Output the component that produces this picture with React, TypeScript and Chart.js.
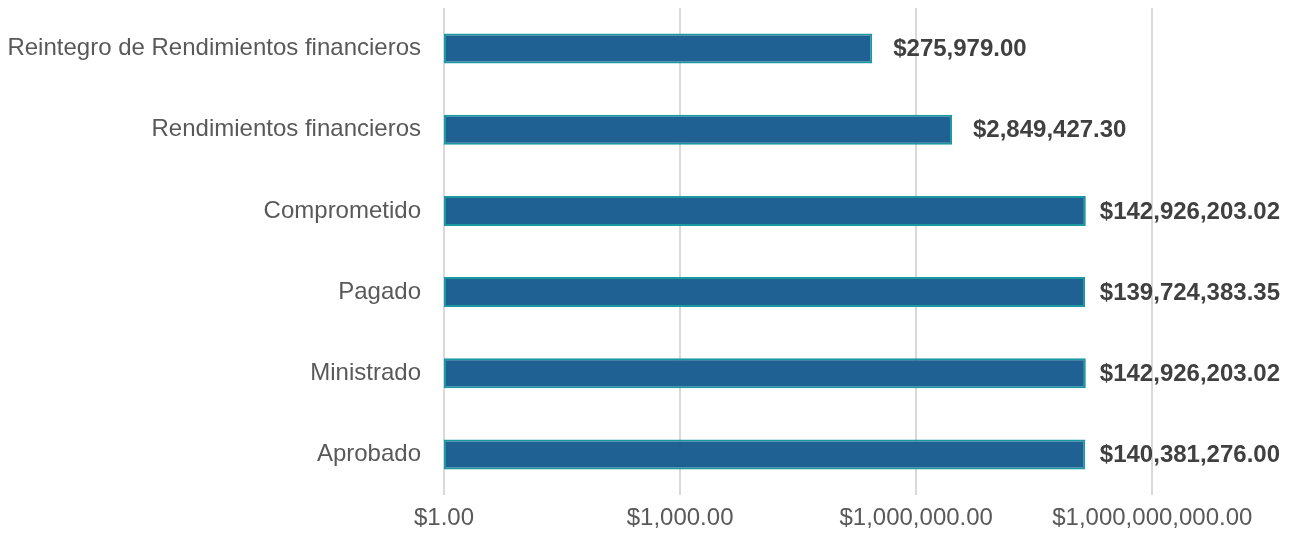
import React, { useEffect, useRef } from "react";
import { Chart, registerables } from "chart.js";

Chart.register(...registerables);

const categories = [
  "Reintegro de Rendimientos financieros",
  "Rendimientos financieros",
  "Comprometido",
  "Pagado",
  "Ministrado",
  "Aprobado",
];
const values = [275979.0, 2849427.3, 142926203.02, 139724383.35, 142926203.02, 140381276.0];
const tickValues = [1, 1000, 1000000, 1000000000];

const FONT = "'Liberation Sans', Arial, Helvetica, sans-serif";

const fmt = (v: number) =>
  "$" + v.toLocaleString("en-US", { minimumFractionDigits: 2, maximumFractionDigits: 2 });

const valueLabels = {
  id: "valueLabels",
  afterDatasetsDraw(chart: any) {
    const ctx = chart.ctx;
    const meta = chart.getDatasetMeta(0);
    ctx.save();
    ctx.font = `bold 24px ${FONT}`;
    ctx.fillStyle = "#404040";
    ctx.textAlign = "left";
    ctx.textBaseline = "middle";
    meta.data.forEach((bar: any, i: number) => {
      const text = fmt(values[i]);
      const w = ctx.measureText(text).width;
      const x = Math.min(bar.x + 21, chart.width - 11 - w);
      ctx.fillText(text, x, bar.y + 1);
    });
    ctx.restore();
  },
};

export default function App() {
  const ref = useRef<HTMLCanvasElement>(null);
  useEffect(() => {
    if (!ref.current) return;
    const chart = new Chart(ref.current, {
      type: "bar",
      data: {
        labels: categories,
        datasets: [
          {
            data: values,
            backgroundColor: "#1F6192",
            borderColor: "#1C98A3",
            borderWidth: 2,
            borderSkipped: false,
            barPercentage: 0.37,
            categoryPercentage: 1,
          },
        ],
      },
      options: {
        indexAxis: "y",
        animation: false,
        responsive: true,
        maintainAspectRatio: false,
        layout: { padding: { top: 8, right: 60, bottom: 0, left: 0 } },
        plugins: { legend: { display: false }, tooltip: { enabled: false } },
        scales: {
          x: {
            type: "logarithmic",
            min: 1,
            max: 1e10,
            afterBuildTicks: (scale: any) => {
              scale.ticks = tickValues.map((v) => ({ value: v }));
            },
            afterFit: (scale: any) => {
              scale.height = 44;
              scale.paddingLeft = 0;
              scale.paddingRight = 0;
            },
            grid: { color: "#D9D9D9", lineWidth: 2, drawTicks: false },
            border: { display: false },
            ticks: {
              padding: 9,
              color: "#595959",
              font: { family: FONT, size: 24 },
              autoSkip: false,
              maxRotation: 0,
              callback: (v: any) => fmt(Number(v)),
            },
          },
          y: {
            afterFit: (scale: any) => {
              scale.width = 444;
              scale.paddingTop = 0;
              scale.paddingBottom = 0;
            },
            grid: { display: false, drawTicks: false },
            border: { display: false },
            ticks: {
              padding: 23,
              color: "#595959",
              font: { family: FONT, size: 24 },
            },
          },
        },
      },
      plugins: [valueLabels],
    });
    return () => chart.destroy();
  }, []);
  return (
    <div style={{ position: "fixed", left: 0, top: 0, width: 1291, height: 539, background: "#fff" }}>
      <canvas ref={ref} />
    </div>
  );
}
